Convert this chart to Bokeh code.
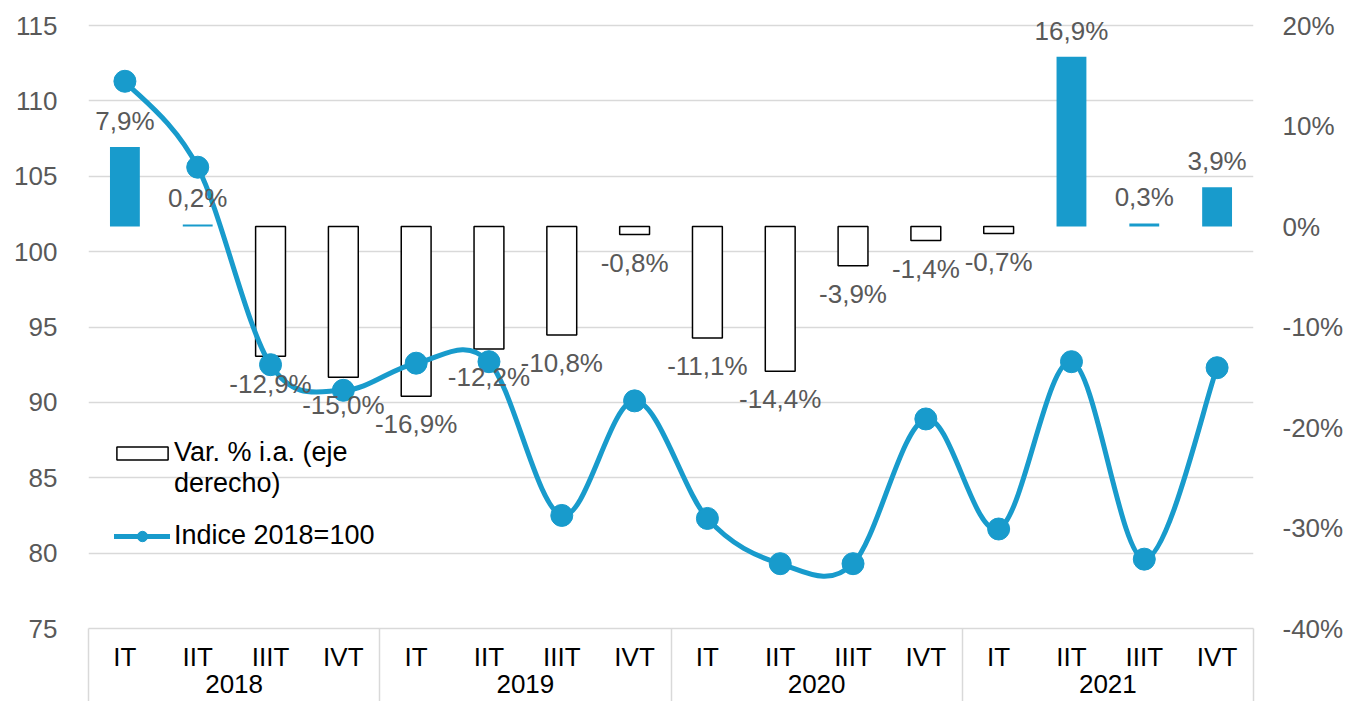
from bokeh.plotting import figure
from bokeh.models import (Range1d, LinearAxis, FixedTicker, Legend, LegendItem,
                          ColumnDataSource, LabelSet)
from bokeh.core.properties import value
from bokeh.embed import file_html
from bokeh.resources import INLINE

# ---- data ----
years = ["2018", "2019", "2020", "2021"]
quarters = ["IT", "IIT", "IIIT", "IVT"]
var_pct = [7.9, 0.2, -12.9, -15.0, -16.9, -12.2, -10.8, -0.8,
           -11.1, -14.4, -3.9, -1.4, -0.7, 16.9, 0.3, 3.9]
indice = [111.3, 105.6, 92.5, 90.8, 92.6, 92.7, 82.5, 90.1,
          82.3, 79.3, 79.3, 88.9, 81.6, 92.7, 79.6, 92.3]
left_ticks = [75, 80, 85, 90, 95, 100, 105, 110, 115]
right_ticks = [-40, -30, -20, -10, 0, 10, 20]
legend_bar_lines = ["Var. % i.a. (eje", "derecho)"]
legend_line = "Indice 2018=100"

BLUE = "#189bcc"
GRID = "#d9d9d9"
GREY = "#595959"
FONT = "Liberation Sans"
FS = "26px"

n = len(var_pct)
xs = [i + 0.5 for i in range(n)]
qlabels = [q for _ in years for q in quarters]

# frame: top gridline at 25px, bottom at 628px; 10px of head-room above the
# top gridline so the tallest data label is not clipped.
TOP_PAD_PX = 10
PLOT_PX = 603
lpad = (left_ticks[-1] - left_ticks[0]) * TOP_PAD_PX / PLOT_PX
rpad = (right_ticks[-1] - right_ticks[0]) * TOP_PAD_PX / PLOT_PX

p = figure(width=1346, height=701, output_backend="svg", toolbar_location=None,
           x_range=Range1d(0, n),
           y_range=Range1d(left_ticks[0], left_ticks[-1] + lpad),
           min_border_left=88, min_border_right=91, min_border_top=25 - TOP_PAD_PX,
           min_border_bottom=73)
p.extra_y_ranges = {"pct": Range1d(right_ticks[0], right_ticks[-1] + rpad)}
p.outline_line_color = None
p.xgrid.visible = False
p.ygrid.ticker = FixedTicker(ticks=left_ticks)
p.ygrid.grid_line_color = GRID
p.ygrid.grid_line_width = 1.5

# left axis
la = p.yaxis[0]
la.ticker = FixedTicker(ticks=left_ticks)
la.axis_line_color = None
la.major_tick_line_color = None
la.minor_tick_line_color = None
la.major_label_standoff = 25
la.major_label_text_font = FONT
la.major_label_text_font_size = FS
la.major_label_text_color = GREY

# right axis
ra = LinearAxis(y_range_name="pct", ticker=FixedTicker(ticks=right_ticks),
                major_label_overrides={t: f"{t}%" for t in right_ticks})
ra.axis_line_color = None
ra.major_tick_line_color = None
ra.minor_tick_line_color = None
ra.major_label_standoff = 23
ra.major_label_text_font = FONT
ra.major_label_text_font_size = FS
ra.major_label_text_color = GREY
p.add_layout(ra, "right")

# quarter axis (year separators drawn as outward minor ticks)
qa = p.xaxis[0]
qa.ticker = FixedTicker(ticks=xs, minor_ticks=[4 * k for k in range(len(years) + 1)])
qa.major_label_overrides = {x: q for x, q in zip(xs, qlabels)}
qa.major_tick_line_color = None
qa.major_tick_out = 0
qa.minor_tick_line_color = GRID
qa.minor_tick_line_width = 1.5
qa.minor_tick_in = -80
qa.minor_tick_out = 0
qa.axis_line_color = GRID
qa.axis_line_width = 1.5
qa.major_label_standoff = 13
qa.major_label_text_font = FONT
qa.major_label_text_font_size = FS
qa.major_label_text_color = "black"

# year axis
ycent = [4 * k + 2 for k in range(len(years))]
ya = LinearAxis(ticker=FixedTicker(ticks=ycent),
                major_label_overrides={c: y for c, y in zip(ycent, years)})
ya.axis_line_color = None
ya.major_tick_line_color = None
ya.major_tick_out = 0
ya.minor_tick_line_color = None
ya.minor_tick_out = 0
ya.major_label_standoff = 0
ya.major_label_text_font = FONT
ya.major_label_text_font_size = FS
ya.major_label_text_color = "black"
p.add_layout(ya, "below")

# bars
pos = [(x, v) for x, v in zip(xs, var_pct) if v > 0]
neg = [(x, v) for x, v in zip(xs, var_pct) if v <= 0]
pos_src = ColumnDataSource(dict(x=[a for a, _ in pos], v=[b for _, b in pos],
                                t=[f"{b:.1f}%".replace(".", ",") for _, b in pos]))
neg_src = ColumnDataSource(dict(x=[a for a, _ in neg], v=[b for _, b in neg],
                                t=[f"{b:.1f}%".replace(".", ",") for _, b in neg]))
p.vbar(x="x", top="v", bottom=0, width=0.41, source=pos_src, y_range_name="pct",
       fill_color=BLUE, line_color=None)
neg_r = p.vbar(x="x", top="v", bottom=0, width=0.41, source=neg_src, y_range_name="pct",
               fill_color="white", line_color="black", line_width=1.5)
blank_r = p.vbar(x=[], top=[], width=0.41, y_range_name="pct",
                 fill_alpha=0, line_alpha=0)

# smoothed line (cubic Bezier per segment, Catmull-Rom style control points)
x0, y0, x1, y1, cx0, cy0, cx1, cy1 = [], [], [], [], [], [], [], []
for i in range(n - 1):
    pa = (xs[max(i - 1, 0)], indice[max(i - 1, 0)])
    pb = (xs[i], indice[i])
    pc = (xs[i + 1], indice[i + 1])
    pd = (xs[min(i + 2, n - 1)], indice[min(i + 2, n - 1)])
    x0.append(pb[0]); y0.append(pb[1]); x1.append(pc[0]); y1.append(pc[1])
    cx0.append(pb[0] + (pc[0] - pa[0]) / 6); cy0.append(pb[1] + (pc[1] - pa[1]) / 6)
    cx1.append(pc[0] - (pd[0] - pb[0]) / 6); cy1.append(pc[1] - (pd[1] - pb[1]) / 6)
curve_r = p.bezier(x0=x0, y0=y0, x1=x1, y1=y1, cx0=cx0, cy0=cy0, cx1=cx1, cy1=cy1,
                   line_color=BLUE, line_width=5, line_cap="round")
pts_r = p.scatter(xs, indice, size=22, fill_color=BLUE, line_color=BLUE)

# data labels
for src, off, base in ((pos_src, 11, "bottom"), (neg_src, -13, "top")):
    p.add_layout(LabelSet(x="x", y="v", text="t", source=src, y_range_name="pct",
                          y_offset=off, text_align="center", text_baseline=base,
                          text_font=value(FONT), text_font_size=value(FS),
                          text_color=GREY))

common = dict(orientation="vertical", background_fill_alpha=0, border_line_color=None,
              label_text_font=FONT, label_text_font_size="27px",
              label_text_color="black", padding=0, margin=0, spacing=0)
legend_a = Legend(items=[LegendItem(label=legend_bar_lines[0], renderers=[neg_r]),
                         LegendItem(label=legend_bar_lines[1], renderers=[blank_r])],
                  location=(22, 129), glyph_width=64, glyph_height=16,
                  label_standoff=0, **common)
legend_b = Legend(items=[LegendItem(label=legend_line, renderers=[curve_r, pts_r])],
                  location=(26, 77), glyph_width=56, glyph_height=26,
                  label_standoff=4, **common)
p.add_layout(legend_a, "center")
p.add_layout(legend_b, "center")

open("out.html", "w").write(file_html(p, INLINE))
